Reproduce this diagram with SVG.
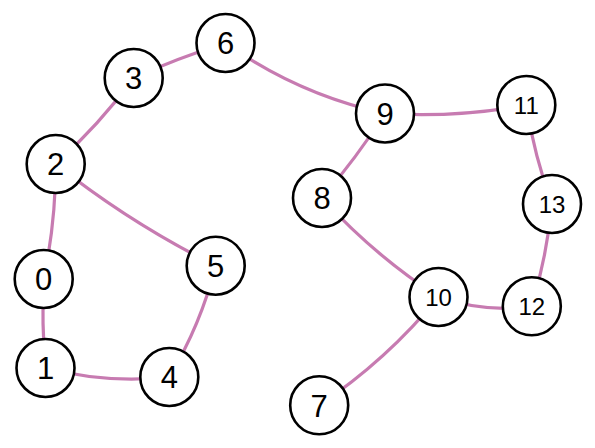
<svg xmlns="http://www.w3.org/2000/svg" width="595" height="448" viewBox="0 0 595 448">
<style>
.e{fill:none;stroke:#c77bb1;stroke-width:3.2;stroke-linecap:round}
.n circle{fill:#fff;stroke:#000;stroke-width:2.6}
.n text{font-family:"Liberation Sans",Arial,sans-serif;fill:#000;text-anchor:middle}
.s{font-size:31px}
.d{font-size:24px}
</style>
<rect width="595" height="448" fill="#fff"/>
<g id="edges">
<path class="e" d="M43.7,279 Q55.7,222.1 55.7,164"/>
<path class="e" d="M43.7,279 Q41.5,323.5 45.5,368"/>
<path class="e" d="M45.5,368 Q107,384 169.3,377"/>
<path class="e" d="M169.3,377 Q200.8,324.8 215.7,265.7"/>
<path class="e" d="M55.7,164 Q130.3,223.3 215.7,265.7"/>
<path class="e" d="M55.7,164 Q99.1,125 133.7,78"/>
<path class="e" d="M133.7,78 Q178.5,57.7 225.5,43"/>
<path class="e" d="M225.5,43 Q298,94.7 385,113.5"/>
<path class="e" d="M385,113.5 Q455.9,118 526.3,105"/>
<path class="e" d="M526.3,105 Q534.3,155.8 552,204"/>
<path class="e" d="M552,204 Q546.8,256.1 531.8,306.3"/>
<path class="e" d="M438.5,297 Q485,313 531.8,306.3"/>
<path class="e" d="M322,198 Q373.8,255.1 438.5,297"/>
<path class="e" d="M385,113.5 Q356.5,157.9 322,198"/>
<path class="e" d="M438.5,297 Q386.9,360 319.2,405.3"/>
</g>
<g id="n0" class="n"><circle cx="43.7" cy="279" r="29"/><text class="s" x="43.7" y="290.2">0</text></g>
<g id="n1" class="n"><circle cx="45.5" cy="368" r="29"/><text class="s" x="45.5" y="379.2">1</text></g>
<g id="n2" class="n"><circle cx="55.7" cy="164" r="29"/><text class="s" x="55.7" y="175.2">2</text></g>
<g id="n3" class="n"><circle cx="133.7" cy="78" r="29"/><text class="s" x="133.7" y="89.2">3</text></g>
<g id="n4" class="n"><circle cx="169.3" cy="377" r="29"/><text class="s" x="169.3" y="388.2">4</text></g>
<g id="n5" class="n"><circle cx="215.7" cy="265.7" r="29"/><text class="s" x="215.7" y="276.9">5</text></g>
<g id="n6" class="n"><circle cx="225.5" cy="43" r="29"/><text class="s" x="225.5" y="54.2">6</text></g>
<g id="n7" class="n"><circle cx="319.2" cy="405.3" r="29"/><text class="s" x="319.2" y="416.5">7</text></g>
<g id="n8" class="n"><circle cx="322" cy="198" r="29"/><text class="s" x="322" y="209.2">8</text></g>
<g id="n9" class="n"><circle cx="385" cy="113.5" r="29"/><text class="s" x="385" y="124.7">9</text></g>
<g id="n10" class="n"><circle cx="438.5" cy="297" r="29"/><text class="d" x="438.5" y="305.6">10</text></g>
<g id="n11" class="n"><circle cx="526.3" cy="105" r="29"/><text class="d" x="526.3" y="113.6">11</text></g>
<g id="n12" class="n"><circle cx="531.8" cy="306.3" r="29"/><text class="d" x="531.8" y="314.9">12</text></g>
<g id="n13" class="n"><circle cx="552" cy="204" r="29"/><text class="d" x="552" y="212.6">13</text></g>
</svg>
